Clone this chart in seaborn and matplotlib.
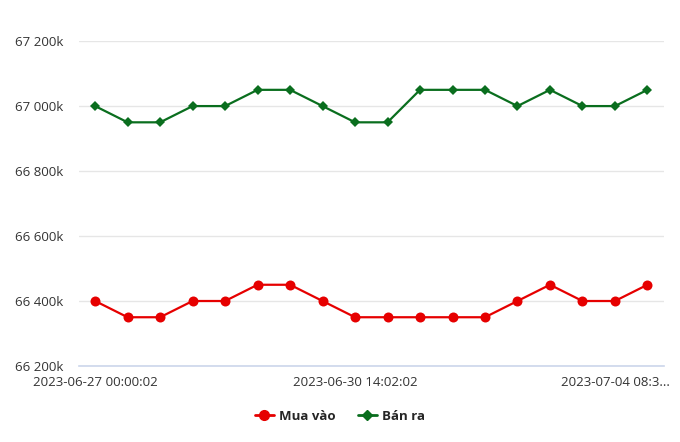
import matplotlib
matplotlib.use("Agg")
import matplotlib.pyplot as plt
import matplotlib.ticker as mticker
import seaborn as sns
import pandas as pd
import numpy as np

timestamps = [f"t{i}" for i in range(18)]
tick_labels = {0: "2023-06-27 00:00:02", 8: "2023-06-30 14:02:02", 16: "2023-07-04 08:3..."}
mua_vao = [66400, 66350, 66350, 66400, 66400, 66450, 66450, 66400, 66350,
           66350, 66350, 66350, 66350, 66400, 66450, 66400, 66400, 66450]
ban_ra = [67000, 66950, 66950, 67000, 67000, 67050, 67050, 67000, 66950,
          66950, 67050, 67050, 67050, 67000, 67050, 67000, 67000, 67050]
series_names = ["Mua vào", "Bán ra"]
colors = {"Mua vào": "#e60000", "Bán ra": "#0a6e1e"}

df = pd.concat([
    pd.DataFrame({"idx": range(len(mua_vao)), "value": mua_vao, "series": series_names[0]}),
    pd.DataFrame({"idx": range(len(ban_ra)), "value": ban_ra, "series": series_names[1]}),
])

sns.set_theme(style="white")
plt.rcParams['font.family'] = ['Open Sans', 'DejaVu Sans']

fig = plt.figure(figsize=(6.8, 4.42), dpi=100)
ax = fig.add_axes([0.116, 0.172, 0.86, 0.735])

sns.lineplot(data=df, x="idx", y="value", hue="series", style="series",
             markers={"Mua vào": "o", "Bán ra": "D"}, dashes=False,
             palette=colors, ax=ax, linewidth=1.6, markeredgewidth=0,
             legend=False)
for line, ms in zip(ax.lines, [7.2, 5.2]):
    line.set_markersize(ms)

ax.set_xlim(-0.5, 17.5)
ax.set_ylim(66200, 67200)
ax.set_yticks([66200, 66400, 66600, 66800, 67000, 67200])
ax.yaxis.set_major_formatter(mticker.FuncFormatter(lambda v, p: f"{int(round(v)):,}k".replace(",", " ")))
ax.set_xticks(list(tick_labels.keys()))
ax.set_xticklabels(list(tick_labels.values()))
ax.grid(axis="y", color="#e6e6e6", linewidth=1)
ax.set_axisbelow(True)
for s in ["top", "right", "left"]:
    ax.spines[s].set_visible(False)
ax.spines["bottom"].set_color("#ccd6eb")
ax.spines["bottom"].set_linewidth(1.2)
ax.tick_params(axis="both", length=0, labelsize=9.5, colors="#333333")
ax.tick_params(axis="y", pad=11)
ax.tick_params(axis="x", pad=7)
ax.set_xlabel("")
ax.set_ylabel("")

from matplotlib.lines import Line2D
handles = [Line2D([0], [0], color=colors["Mua vào"], marker="o", markersize=7, lw=2),
           Line2D([0], [0], color=colors["Bán ra"], marker="D", markersize=5, lw=2)]
fig.legend(handles, series_names, loc="center", bbox_to_anchor=(0.5, 0.058), ncol=2,
           frameon=False, prop={"weight": "bold", "size": 9.5}, handlelength=1.4,
           columnspacing=1.7, handletextpad=0.4)

fig.savefig("out.png", dpi=100)
